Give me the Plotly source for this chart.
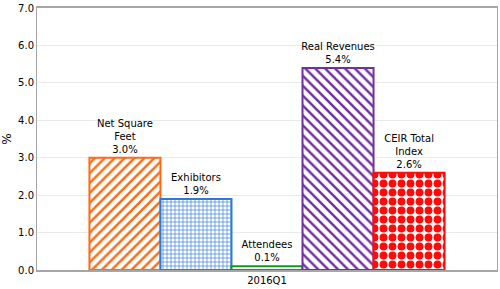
import plotly.graph_objects as go

categories = ["2016Q1"]
series_names = ["Net Square Feet", "Exhibitors", "Attendees", "Real Revenues", "CEIR Total Index"]
series_labels = ["Net Square<br>Feet", "Exhibitors", "Attendees", "Real Revenues", "CEIR Total<br>Index"]
series_values = [3.0, 1.9, 0.1, 5.4, 2.6]
colors = ["#FF6A13", "#2F7BD4", "#0A9A1E", "#7030A0", "#FF0A0A"]
shapes = ["/", "+", "-", "\\", "."]
sizes = [7, 4, 5, 7, 9]
solid = [0.35, 0.3, 0.4, 0.35, 0.6]

fig = go.Figure()
for name, lab, v, c, s, sz, so in zip(series_names, series_labels, series_values, colors, shapes, sizes, solid):
    fig.add_trace(go.Bar(
        x=categories, y=[v], name=name,
        text=[f"{lab}<br>{v:.1f}%"], textposition="outside", constraintext="none",
        textfont=dict(family="DejaVu Sans", size=10, color="#000000"),
        cliponaxis=False,
        marker=dict(color="white", line=dict(color=c, width=2),
                    pattern=dict(shape=s, fgcolor=c, bgcolor="white", fgopacity=1,
                                 size=sz, solidity=so, fillmode="replace")),
    ))

fig.update_layout(
    width=500, height=289,
    margin=dict(l=37, r=2, t=5, b=19),
    barmode="group", bargap=0.228, bargroupgap=0,
    plot_bgcolor="white", paper_bgcolor="white",
    showlegend=False,
    font=dict(family="DejaVu Sans", size=10, color="#000000"),
    xaxis=dict(showline=True, linecolor="#A6A6A6", linewidth=2, mirror=True, ticks="",
               tickfont=dict(size=10)),
    yaxis=dict(range=[0, 7], dtick=1, tickformat=".1f", showgrid=True, gridcolor="#EBEBEB",
               showline=True, linecolor="#A6A6A6", linewidth=1, mirror=True, zeroline=False,
               ticklabeloverflow="allow",
               title=dict(text="%", standoff=6), tickfont=dict(size=10)),
)

fig.write_html("out.html")
